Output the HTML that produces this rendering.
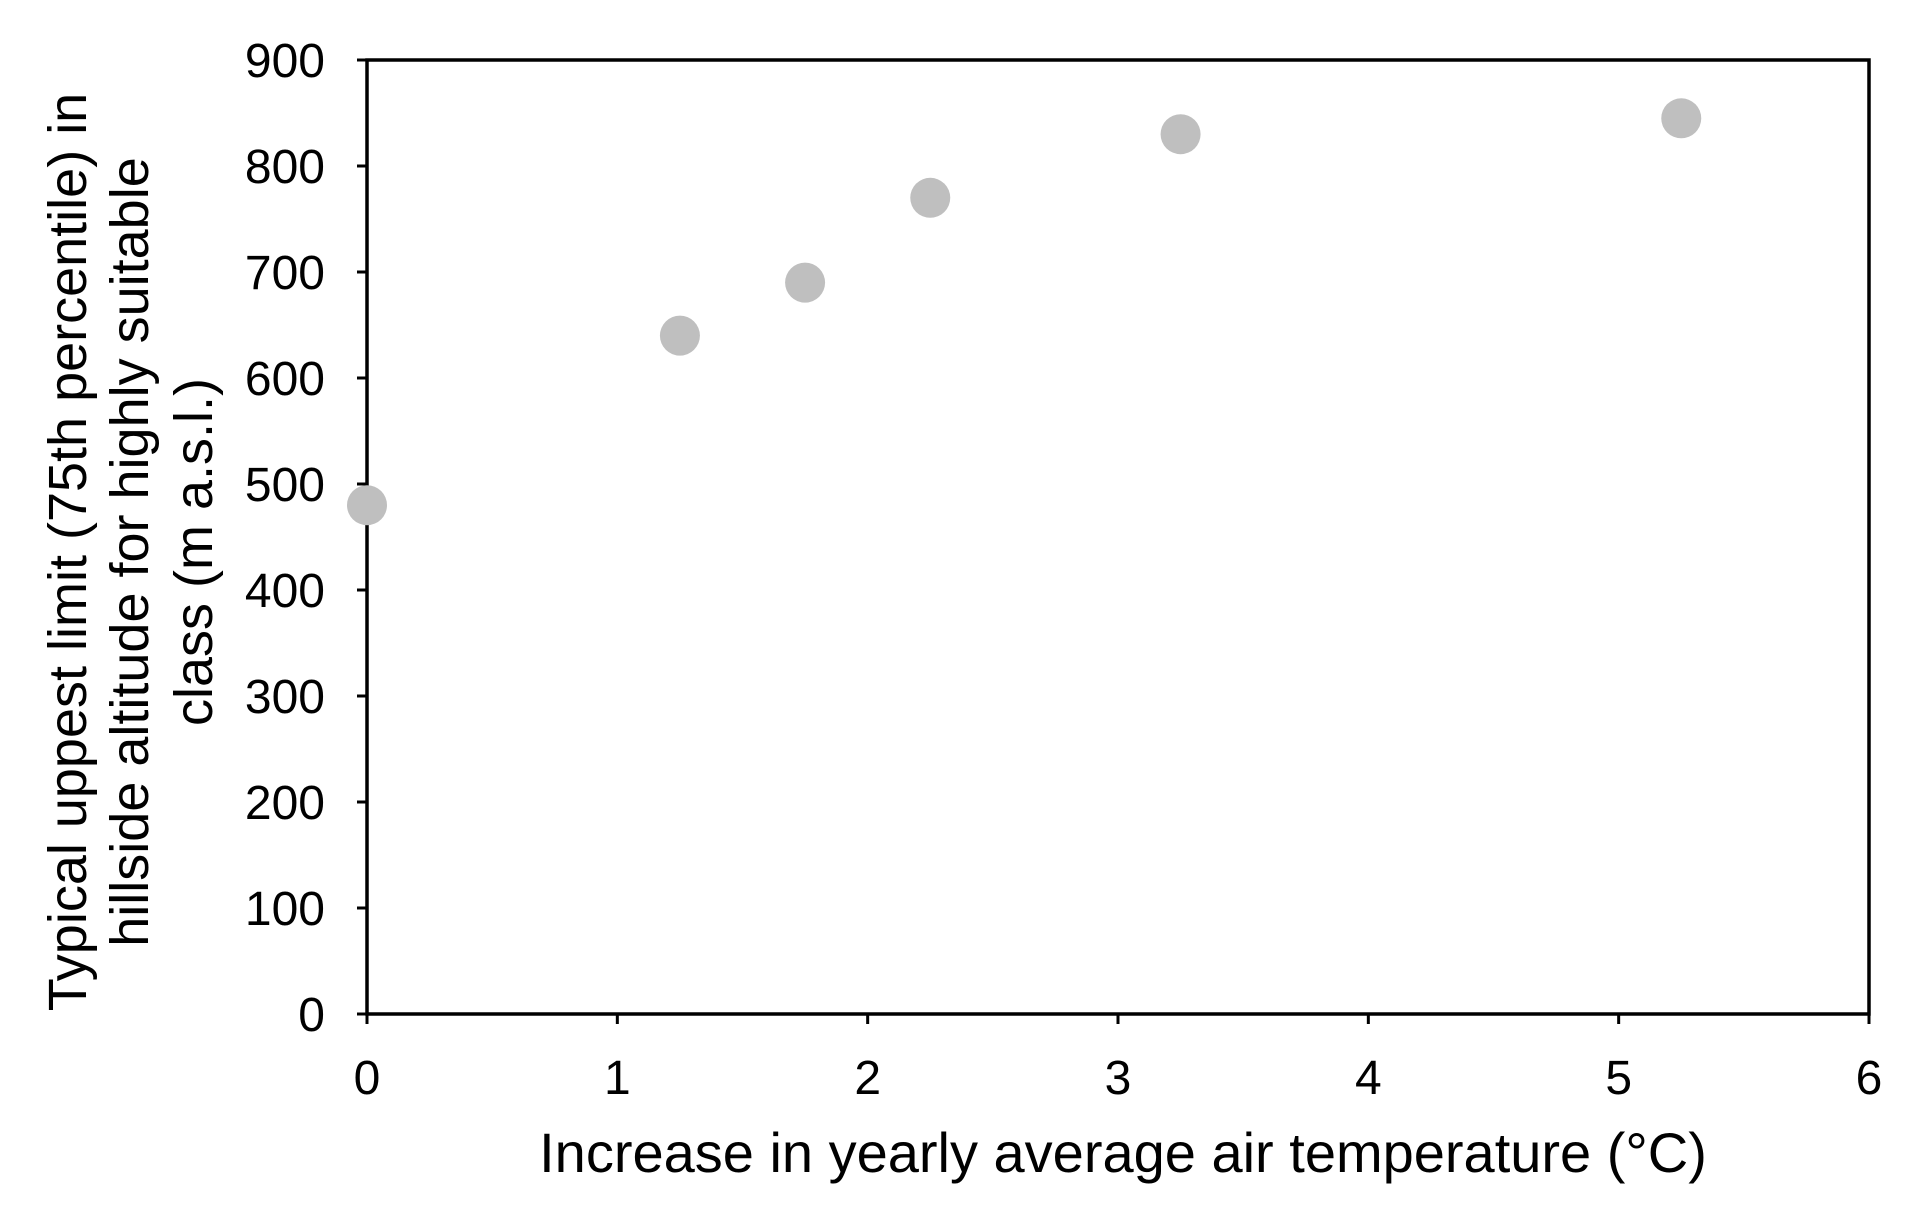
<!DOCTYPE html>
<html><head><meta charset="utf-8"><style>
html,body{margin:0;padding:0;background:#fff;}
svg{display:block;font-family:"Liberation Sans",sans-serif;}
</style></head><body>
<svg id="chart" width="1915" height="1222">
<g id="axes"></g><g id="pts"></g>
<text x="1123" y="1172" font-size="56" text-anchor="middle" fill="#000">Increase in yearly average air temperature (°C)</text>
<g transform="translate(0,552) rotate(-90)" font-size="54" text-anchor="middle" fill="#000">
<text x="0" y="86">Typical uppest limit (75th percentile) in</text>
<text x="0" y="148">hillside altitude for highly suitable</text>
<text x="0" y="212">class (m a.s.l.)</text>
</g>
</svg>
<script>
const xs=[0,1.25,1.75,2.25,3.25,5.25];
const ys=[480,640,690,770,830,845];
const xTicks=[0,1,2,3,4,5,6];
const yTicks=[0,100,200,300,400,500,600,700,800,900];
const L=367,R=1869,T=60,B=1014;
const sx=v=>L+(v-0)/6*(R-L), sy=v=>B-(v/900)*(B-T);
const NS="http://www.w3.org/2000/svg";
const ax=document.getElementById('axes'),pg=document.getElementById('pts');
function mk(tag,at,par){const e=document.createElementNS(NS,tag);for(const k in at)e.setAttribute(k,at[k]);par.appendChild(e);return e;}
const fr=mk('rect',{x:L,y:T,width:R-L,height:B-T,fill:'none',stroke:'#000','stroke-width':3.5},ax);


yTicks.forEach(v=>{
 const t=mk('line',{x1:L-10,x2:L,y1:sy(v),y2:sy(v),stroke:'#000','stroke-width':3},ax);
 
 
 const tx=mk('text',{x:L-42,y:sy(v)+17,'font-size':48,'text-anchor':'end'},ax);tx.textContent=v;
 
 
});
xTicks.forEach(v=>{
 const t=mk('line',{x1:sx(v),x2:sx(v),y1:B,y2:B+10,stroke:'#000','stroke-width':3},ax);
 
 
 const tx=mk('text',{x:sx(v),y:1094,'font-size':48,'text-anchor':'middle'},ax);tx.textContent=v;
 
 
});
xs.forEach((x,i)=>{
 const c=mk('circle',{cx:sx(x),cy:sy(ys[i]),r:20,fill:'#bfbfbf'},pg);
 
 
});
</script>
</body></html>
